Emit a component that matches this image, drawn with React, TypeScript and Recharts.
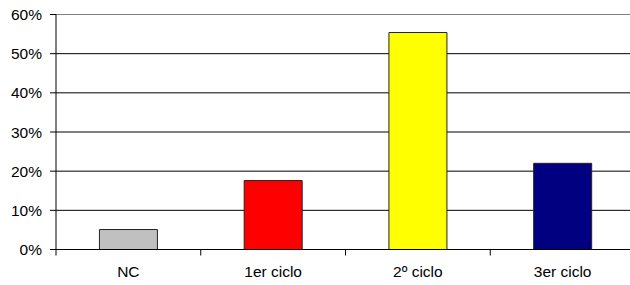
import React from "react";
import { BarChart, Bar, XAxis, YAxis, CartesianGrid, ReferenceLine, Cell } from "recharts";

const categories = ["NC", "1er ciclo", "2º ciclo", "3er ciclo"];
const values = [0.051, 0.176, 0.554, 0.22];
const barColors = ["#C0C0C0", "#FF0000", "#FFFF00", "#000080"];
const yTicks = [0, 0.1, 0.2, 0.3, 0.4, 0.5, 0.6];
const gridValues = [0.1, 0.2, 0.3, 0.4, 0.5];
const boundaryTicks = [0, 1, 2, 3, 4];

const data = categories.map((c, i) => ({ name: c, value: values[i], pos: i + 0.5 }));

const font = { fontFamily: "'Liberation Sans', Arial, sans-serif", fontSize: 15.5, fill: "#000" };

export default function App() {
  return (
    <div style={{ position: "absolute", left: 0, top: 0, width: 630, height: 285, overflow: "hidden", background: "#fff" }}>
      <BarChart
        width={640}
        height={285}
        data={data}
        margin={{ top: 14.5, right: 5, bottom: 0, left: 0 }}
        barCategoryGap="30%"
      >
        <CartesianGrid
          xAxisId="b"
          vertical={false}
          horizontalValues={gridValues}
          stroke="#000"
          strokeWidth={1}
        />
        <XAxis
          xAxisId="b"
          dataKey="name"
          height={34.5}
          axisLine={false}
          tickLine={false}
          tickSize={5}
          tickMargin={10}
          tick={font}
          interval={0}
        />
        <XAxis
          xAxisId="a"
          dataKey="pos"
          type="number"
          domain={[0, 4]}
          ticks={boundaryTicks}
          height={1}
          tickSize={6}
          tickFormatter={() => ""}
          axisLine={{ stroke: "#000" }}
          tickLine={{ stroke: "#000" }}
          allowDataOverflow
        />
        <YAxis
          width={56}
          domain={[0, 0.6]}
          ticks={yTicks}
          tickFormatter={(v: number) => `${Math.round(v * 100)}%`}
          tickSize={6}
          tickMargin={8}
          tick={font}
          axisLine={{ stroke: "#000" }}
          tickLine={{ stroke: "#000" }}
          allowDataOverflow
        />
        <ReferenceLine xAxisId="b" y={0.6} stroke="#808080" strokeWidth={1} />
        <Bar xAxisId="b" dataKey="value" stroke="#222" strokeWidth={1} isAnimationActive={false}>
          {data.map((d, i) => (
            <Cell key={d.name} fill={barColors[i]} />
          ))}
        </Bar>
      </BarChart>
    </div>
  );
}
